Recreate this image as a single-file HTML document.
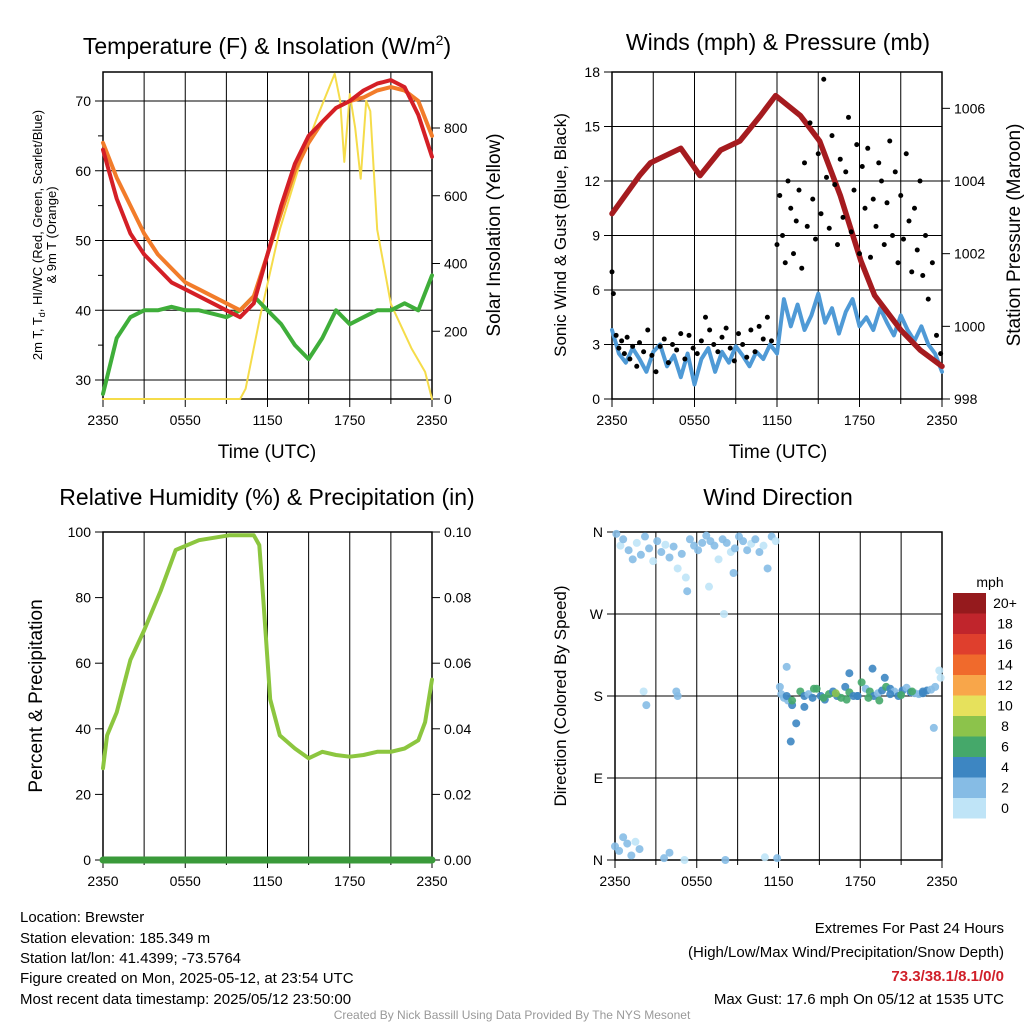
<!DOCTYPE html>
<html><head><meta charset="utf-8">
<style>
body{margin:0;background:#fff;}
svg{display:block;font-family:"Liberation Sans",sans-serif;}
</style></head>
<body>
<svg id="fig" width="1024" height="1024" viewBox="0 0 1024 1024">
<rect width="1024" height="1024" fill="#fff"/>
<text x="267" y="54" font-size="23" text-anchor="middle">Temperature (F) &amp; Insolation (W/m<tspan font-size="14" dy="-9">2</tspan><tspan dy="9">)</tspan></text>
<text x="778" y="50" font-size="23" text-anchor="middle">Winds (mph) &amp; Pressure (mb)</text>
<text x="267" y="505" font-size="23" text-anchor="middle">Relative Humidity (%) &amp; Precipitation (in)</text>
<text x="778" y="505" font-size="23" text-anchor="middle">Wind Direction</text>
<text x="267" y="458" font-size="19" text-anchor="middle">Time (UTC)</text>
<text x="778" y="458" font-size="19" text-anchor="middle">Time (UTC)</text>
<text transform="translate(42,235) rotate(-90)" font-size="13" text-anchor="middle">2m T, T<tspan font-size="9" dy="3">d</tspan><tspan dy="-3">, HI/WC (Red, Green, Scarlet/Blue)</tspan></text>
<text transform="translate(56,235) rotate(-90)" font-size="13" text-anchor="middle">&amp; 9m T (Orange)</text>
<text transform="translate(500,235) rotate(-90)" font-size="19" text-anchor="middle">Solar Insolation (Yellow)</text>
<text transform="translate(566,235) rotate(-90)" font-size="17" text-anchor="middle">Sonic Wind &amp; Gust (Blue, Black)</text>
<text transform="translate(1020,235) rotate(-90)" font-size="19" text-anchor="middle">Station Pressure (Maroon)</text>
<text transform="translate(42,696) rotate(-90)" font-size="19" text-anchor="middle">Percent &amp; Precipitation</text>
<text transform="translate(566,696) rotate(-90)" font-size="17" text-anchor="middle">Direction (Colored By Speed)</text>
<g id="p1"></g>
<g id="p2"></g>
<g id="p3"></g>
<g id="p4"></g>
<g id="cbar"></g>
<g font-size="15">
<text x="20" y="922">Location: Brewster</text>
<text x="20" y="943">Station elevation: 185.349 m</text>
<text x="20" y="963">Station lat/lon: 41.4399; -73.5764</text>
<text x="20" y="983">Figure created on Mon, 2025-05-12, at 23:54 UTC</text>
<text x="20" y="1004">Most recent data timestamp: 2025/05/12 23:50:00</text>
</g>
<g font-size="15" text-anchor="end">
<text x="1004" y="933">Extremes For Past 24 Hours</text>
<text x="1004" y="957">(High/Low/Max Wind/Precipitation/Snow Depth)</text>
<text x="1004" y="981" fill="#d0202a" font-weight="bold">73.3/38.1/8.1/0/0</text>
<text x="1004" y="1004">Max Gust: 17.6 mph On 05/12 at 1535 UTC</text>
</g>
<text x="512" y="1019" font-size="12" fill="#999" text-anchor="middle">Created By Nick Bassill Using Data Provided By The NYS Mesonet</text>
</svg>
<script>
const tickLabels = ["2350","0550","1150","1750","2350"];
const hours = [0,1,2,3,4,5,6,7,8,9,10,11,12,13,14,15,16,17,18,19,20,21,22,23,24];
const tempRed = [63,56,51,48,46,44,43,42,41,40,39,41,48,55,61,65,67,69,70,71.5,72.5,73,72,68,62];
const temp9m = [64,59,55,51,48,46,44,43,42,41,40,42,48,54,60,64,67,69,70,70.5,71.5,72,71.5,70,65];
const heatIdx = [28,36,39,40,40,40.5,40,40,39.5,39,40,42,40,38,35,33,36,40,38,39,40,40,41,40,45];
const solarHours = [0,10,10.4,11.5,12.9,14.4,15.8,16.9,17.3,17.6,18,18.4,18.8,19.2,19.5,20,21,22.5,23.5,24];
const solarVals = [0,0,30,250,500,700,850,960,880,700,900,800,650,880,850,500,280,150,80,0];
const pressHours = [0,2,2.8,5,6.4,7.9,9.3,10.8,11.9,13.7,15.1,16.6,18.1,19.1,21,22.4,24];
const pressVals = [1003.1,1004.15,1004.5,1004.9,1004.15,1004.85,1005.1,1005.8,1006.35,1005.8,1005.1,1003.6,1001.8,1000.85,999.9,999.35,998.9];
const windVals = [3.8,2.5,2.0,2.8,2.2,1.5,2.6,3.0,1.8,2.4,1.2,2.5,0.8,2.2,2.8,1.5,2.6,2.0,2.9,2.4,1.8,2.6,2.2,3.0,2.5,5.5,4.0,5.2,3.8,4.6,5.8,4.2,5.0,3.6,4.8,5.5,4.0,4.5,3.8,5.0,4.2,3.5,4.6,3.8,3.2,4.0,3.0,2.5,1.5];
const gustHours = [0,0.1,0.3,0.5,0.7,0.9,1.1,1.3,1.5,1.8,2.0,2.3,2.6,2.9,3.2,3.5,3.8,4.1,4.4,4.7,5.0,5.3,5.6,5.9,6.2,6.5,6.8,7.1,7.4,7.7,8.0,8.3,8.6,8.9,9.2,9.5,9.8,10.1,10.4,10.7,11.0,11.3,11.6,12.0,12.2,12.4,12.6,12.8,13.0,13.2,13.4,13.6,13.8,14.0,14.2,14.4,14.6,14.8,15.0,15.2,15.4,15.6,15.8,16.0,16.2,16.4,16.6,16.8,17.0,17.2,17.4,17.6,17.8,18.0,18.2,18.4,18.6,18.8,19.0,19.2,19.4,19.6,19.8,20.0,20.2,20.4,20.6,20.8,21.0,21.2,21.4,21.6,21.8,22.0,22.2,22.4,22.6,22.8,23.0,23.3,23.6,23.9];
const gustVals = [7,5.8,3.5,2.8,3.2,2.5,3.4,2.2,2.9,1.8,3.1,2.6,3.8,2.4,1.5,2.9,3.3,2.0,3.0,2.7,3.6,2.2,3.5,2.8,2.5,3.2,4.5,3.8,3.0,2.6,3.4,3.9,2.8,2.1,3.6,3.0,2.3,3.8,2.6,4.0,3.3,4.5,3.2,8.5,11.2,9.0,7.5,12.0,10.5,8.0,9.8,11.5,7.2,13.0,9.5,15.2,11.0,8.8,13.5,10.2,17.6,12.2,9.4,14.5,11.8,8.5,13.2,10.0,12.5,15.5,9.2,11.5,14.0,8.0,12.8,10.5,13.8,7.8,11.0,9.5,13.0,12.0,8.5,10.8,14.2,9.0,12.5,7.5,11.2,8.8,13.5,9.8,7.0,10.5,8.2,12.0,6.8,9.0,5.5,7.5,3.5,2.5];
const rhHours = [0,0.3,1,2,3,4.2,5.3,7,9.2,11,11.4,11.7,12.2,12.9,14,15,16,17,18,19,20,21,22,23,23.5,24];
const rhVals = [28,38,45,61,70,82,94.5,97.5,99,99,96,79,49,38,34,31,33,32,31.5,32,33,33,34,36.5,42,55];
const precipVals = [0,0,0,0,0,0,0,0,0,0,0,0,0,0,0,0,0,0,0,0,0,0,0,0,0];
const dirHours = [0.1,0.4,0.6,1.0,1.3,1.6,1.9,2.2,2.5,2.8,3.1,3.4,3.7,4.0,4.3,4.6,4.9,5.2,5.5,5.8,6.1,6.4,6.7,7.0,7.3,7.6,7.9,8.2,8.5,8.8,9.1,9.4,9.7,10.0,10.3,10.6,10.9,11.2,11.5,11.8,5.3,6.9,8.0,8.7,0.0,0.3,0.6,0.9,1.2,1.5,1.8,3.6,5.1,4.0,8.1,11.0,11.9,2.1,2.3,4.6,4.5,12.1,12.4,12.7,13.0,13.3,13.6,13.9,14.2,14.5,14.8,15.1,15.4,15.7,16.0,16.3,16.6,16.9,17.2,17.5,17.8,18.1,18.4,18.7,19.0,19.3,19.6,19.9,20.2,20.5,20.8,21.1,21.4,21.7,22.0,22.3,22.6,22.9,23.2,23.5,23.8,12.2,12.6,13.0,13.9,14.6,15.3,16.2,17.0,17.8,18.6,19.4,20.2,21.0,21.8,22.6,23.4,12.9,12.6,17.2,18.9,19.8,23.9];
const dirVals = [358,345,352,340,330,348,335,355,342,328,350,338,346,332,344,320,336,310,352,345,340,348,356,350,345,330,352,348,338,342,355,350,340,347,352,338,345,320,355,350,295,300,270,315,15,10,25,18,5,20,12,2,0,8,0,3,2,185,170,180,185,190,178,175,170,150,185,180,182,178,188,180,176,182,185,180,178,190,184,180,180,195,188,185,180,183,186,190,188,185,180,186,189,184,183,182,185,186,187,190,208,182,180,175,168,188,178,183,176,180,178,175,182,181,185,183,145,130,212,205,210,200,200];
const dirSpeed = [2,1,2,2,2,1,2,3,2,1,2,2,1,2,2,1,2,1,2,2,2,3,2,3,2,1,2,2,1,2,3,2,2,1,2,2,1,2,2,1,2,1,1,2,3,2,2,3,2,1,2,2,1,2,3,1,2,1,2,3,2,3,3,2,5,4,6,4,3,5,6,4,5,6,4,5,6,4,7,5,4,6,3,6,5,3,4,6,4,3,5,4,3,4,2,3,5,4,3,2,1,3,4,6,5,7,6,8,6,5,6,7,5,6,7,5,3,4,3,5,4,4,1];
const cbarLabels = ["20+","18","16","14","12","10","8","6","4","2","0"];
const cbarColors = ["#951a1d","#c0252c","#df3f2d","#f06a2c","#f8a64a","#e6e15c","#8cc34b","#45a86a","#3d86c2","#86bce5","#bfe4f7"];

const NS="http://www.w3.org/2000/svg";
function mk(parent,tag,attrs){const e=document.createElementNS(NS,tag);for(const k in attrs)e.setAttribute(k,attrs[k]);parent.appendChild(e);return e;}
function scale(d0,d1,r0,r1){return v=>r0+(v-d0)/(d1-d0)*(r1-r0);}
function frame(g,x0,x1,y0,y1,yTicks,yFn,yLab,rTicks,rFn,rLab,hgrid){
  const X=scale(0,24,x0,x1);
  for(let h=0;h<=24;h+=3){const l=mk(g,'line',{x1:X(h),x2:X(h),y1:y0,y2:y1,stroke:'#000','stroke-width':1});
    
    
    mk(g,'line',{x1:X(h),x2:X(h),y1:y1,y2:y1+(h%6==0?8:5),stroke:'#000'});}
  tickLabels.forEach((t,i)=>{const e=mk(g,'text',{x:X(i*6),y:y1+26,'font-size':14,'text-anchor':'middle'});e.textContent=t;
    
    });
  yTicks.forEach((v,i)=>{const y=yFn(v);
    if(hgrid){const l=mk(g,'line',{x1:x0,x2:x1,y1:y,y2:y,stroke:'#000'});
      
      }
    mk(g,'line',{x1:x0-8,x2:x0,y1:y,y2:y,stroke:'#000'});
    const e=mk(g,'text',{x:x0-12,y:y+5,'font-size':14,'text-anchor':'end'});e.textContent=yLab[i];
    
    });
  rTicks.forEach((v,i)=>{const y=rFn(v);
    mk(g,'line',{x1:x1,x2:x1+8,y1:y,y2:y,stroke:'#000'});
    const e=mk(g,'text',{x:x1+12,y:y+5,'font-size':14});e.textContent=rLab[i];
    
    });
  const r=mk(g,'rect',{x:x0,y:y0,width:x1-x0,height:y1-y0,fill:'none',stroke:'#000','stroke-width':1.5});
  
  
  return X;
}
function line(g,xs,ys,X,Y,color,w,name){
  const d=xs.map((h,i)=>(i?'L':'M')+X(h).toFixed(1)+','+Y(ys[i]).toFixed(1)).join('');
  const p=mk(g,'path',{d:d,fill:'none',stroke:color,'stroke-width':w,'stroke-linejoin':'round','stroke-linecap':'round'});
  
  
  return p;
}
{const g=document.getElementById('p1');
 const Y=scale(30,70,380,101), S=scale(0,800,399,128);
 const X=frame(g,103,432,72,399,[30,40,50,60,70],Y,["30","40","50","60","70"],[0,200,400,600,800],S,["0","200","400","600","800"],true);
 for(let v=35;v<75;v+=10)mk(g,'line',{x1:98,x2:103,y1:Y(v),y2:Y(v),stroke:'#000'});
 line(g,solarHours,solarVals,X,S,'#f5dc4a',2,'solar-line');
 line(g,hours,heatIdx,X,Y,'#3fae3a',4,'heat-index-line');
 line(g,hours,temp9m,X,Y,'#f27c2a',4,'temp-9m-line');
 line(g,hours,tempRed,X,Y,'#d41f26',4,'temp-2m-line');}
{const g=document.getElementById('p2');
 const Y=scale(0,18,399,72), P=scale(998,1007,399,72);
 const X=frame(g,612,942,72,399,[0,3,6,9,12,15,18],Y,["0","3","6","9","12","15","18"],[998,1000,1002,1004,1006],P,["998","1000","1002","1004","1006"],true);
 const wh=windVals.map((v,i)=>i*0.5);
 line(g,wh,windVals,X,Y,'#4f9ad6',4,'sonic-wind-line');
 line(g,pressHours,pressVals,X,P,'#a51b1f',5.5,'pressure-line');
 gustHours.forEach((h,i)=>{const c=mk(g,'circle',{cx:X(h),cy:Y(gustVals[i]),r:2.5,fill:'#000'});
   
   });}
{const g=document.getElementById('p3');
 const Y=scale(0,100,860,532), R=scale(0,0.1,860,532);
 const X=frame(g,103,432,532,860,[0,20,40,60,80,100],Y,["0","20","40","60","80","100"],[0,0.02,0.04,0.06,0.08,0.1],R,["0.00","0.02","0.04","0.06","0.08","0.10"],false);
 line(g,hours,precipVals,X,R,'#3a9a3a',7,'precip-line');
 line(g,rhHours,rhVals,X,Y,'#8cc63f',4,'rh-line');}
{const g=document.getElementById('p4');
 const Y=scale(0,360,860,532);
 const X=frame(g,615,942,532,860,[0,90,180,270,360],Y,["N","E","S","W","N"],[],Y,[],true);
 dirHours.forEach((h,i)=>{if(dirVals[i]===undefined)return;const b=Math.min(10,Math.floor((dirSpeed[i]||1)/2));
   const c=mk(g,'circle',{cx:X(h),cy:Y(dirVals[i]),r:4,fill:cbarColors[10-b],opacity:0.9});
   
   });}
{const g=document.getElementById('cbar');
 const t=mk(g,'text',{x:990,y:587,'font-size':14,'text-anchor':'middle'});t.textContent='mph';
 cbarColors.forEach((c,i)=>{const y=593+i*20.5;
   const r=mk(g,'rect',{x:953,y:y,width:33,height:20.5,fill:c});
   
   
   const e=mk(g,'text',{x:1005,y:y+15,'font-size':14,'text-anchor':'middle'});e.textContent=cbarLabels[i];
   
   });}
</script>
</body></html>
